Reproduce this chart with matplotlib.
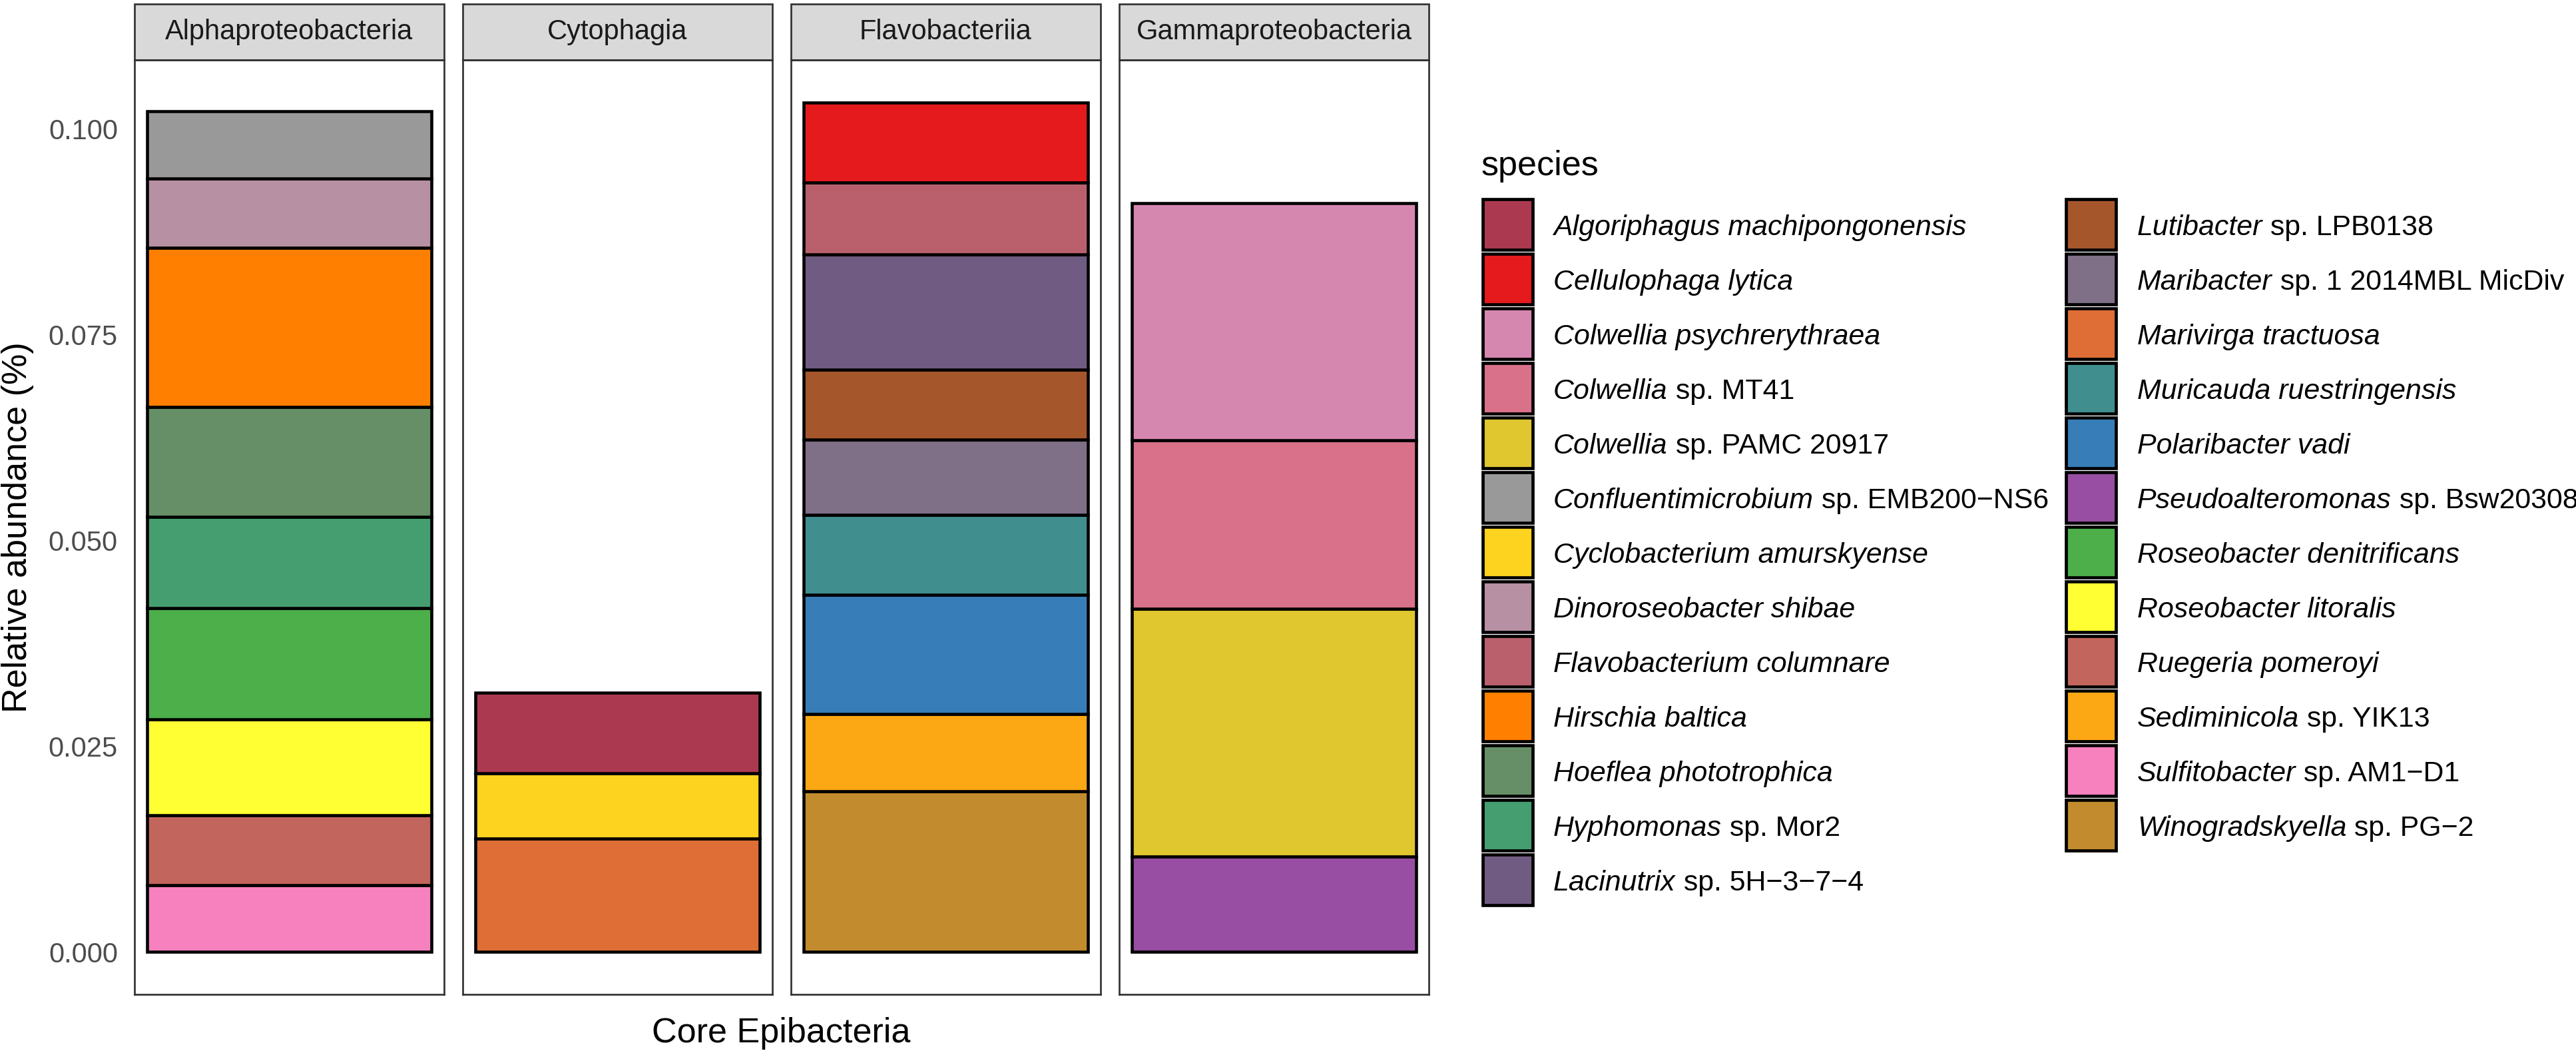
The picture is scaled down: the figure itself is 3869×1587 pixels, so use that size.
import matplotlib
matplotlib.use("Agg")
import matplotlib.pyplot as plt
from matplotlib.patches import Rectangle

plt.rcParams['font.family'] = ['Liberation Sans', 'DejaVu Sans']

species = [
    "Algoriphagus machipongonensis", "Cellulophaga lytica", "Colwellia psychrerythraea",
    "Colwellia sp. MT41", "Colwellia sp. PAMC 20917", "Confluentimicrobium sp. EMB200\u2212NS6",
    "Cyclobacterium amurskyense", "Dinoroseobacter shibae", "Flavobacterium columnare",
    "Hirschia baltica", "Hoeflea phototrophica", "Hyphomonas sp. Mor2",
    "Lacinutrix sp. 5H\u22123\u22127\u22124", "Lutibacter sp. LPB0138",
    "Maribacter sp. 1 2014MBL MicDiv", "Marivirga tractuosa", "Muricauda ruestringensis",
    "Polaribacter vadi", "Pseudoalteromonas sp. Bsw20308", "Roseobacter denitrificans",
    "Roseobacter litoralis", "Ruegeria pomeroyi", "Sediminicola sp. YIK13",
    "Sulfitobacter sp. AM1\u2212D1", "Winogradskyella sp. PG\u22122",
]
colors = [
    "#AB3A50", "#E41A1C", "#D687B0", "#D9718B", "#E0C62F", "#999999",
    "#FDD31F", "#B890A3", "#BA606D", "#FF7F00", "#668F67", "#459E6F",
    "#705C82", "#A6562B", "#7F6F87", "#DE6E36", "#418E8F", "#377EB8",
    "#984EA3", "#4DAF4A", "#FFFF33", "#C2655C", "#FCA714", "#F781BF", "#C28C2E",
]

classes = ["Alphaproteobacteria", "Cytophagia", "Flavobacteriia", "Gammaproteobacteria"]

# species per class, listed top to bottom of each stack
alpha_sp = ["Confluentimicrobium sp. EMB200\u2212NS6", "Dinoroseobacter shibae", "Hirschia baltica",
            "Hoeflea phototrophica", "Hyphomonas sp. Mor2", "Roseobacter denitrificans",
            "Roseobacter litoralis", "Ruegeria pomeroyi", "Sulfitobacter sp. AM1\u2212D1"]
alpha_val = [0.0082, 0.0084, 0.0194, 0.0133, 0.0111, 0.0135, 0.0117, 0.0085, 0.0081]

cyto_sp = ["Algoriphagus machipongonensis", "Cyclobacterium amurskyense", "Marivirga tractuosa"]
cyto_val = [0.0098, 0.0079, 0.0138]

flavo_sp = ["Cellulophaga lytica", "Flavobacterium columnare", "Lacinutrix sp. 5H\u22123\u22127\u22124",
            "Lutibacter sp. LPB0138", "Maribacter sp. 1 2014MBL MicDiv", "Muricauda ruestringensis",
            "Polaribacter vadi", "Sediminicola sp. YIK13", "Winogradskyella sp. PG\u22122"]
flavo_val = [0.0097, 0.0087, 0.0140, 0.0085, 0.0092, 0.0097, 0.0145, 0.0094, 0.0195]

gamma_sp = ["Colwellia psychrerythraea", "Colwellia sp. MT41", "Colwellia sp. PAMC 20917",
            "Pseudoalteromonas sp. Bsw20308"]
gamma_val = [0.0288, 0.0205, 0.0301, 0.0116]

panel_sp = [alpha_sp, cyto_sp, flavo_sp, gamma_sp]
panel_val = [alpha_val, cyto_val, flavo_val, gamma_val]

yticks = [0.0, 0.025, 0.05, 0.075, 0.1]
ytick_labels = ["0.000", "0.025", "0.050", "0.075", "0.100"]

color_of = dict(zip(species, colors))

W, H = 3869, 1587
fig = plt.figure(figsize=(W / 300, H / 300), dpi=300)

left0, pw, gap = 202, 465, 28
top, bottom = 90, 1493
strip_h = 84
edge = "#333333"

for i, cls in enumerate(classes):
    x0 = left0 + i * (pw + gap)
    ax = fig.add_axes([x0 / W, 1 - bottom / H, pw / W, (bottom - top) / H])
    sp = panel_sp[i][::-1]
    vals = panel_val[i][::-1]
    base = 0.0
    for s, v in zip(sp, vals):
        ax.bar(1, v, bottom=base, width=0.9, color=color_of[s], edgecolor="black", linewidth=1.1)
        base += v
    ax.set_xlim(0.509, 1.491)
    ax.set_ylim(-0.00516, 0.1084)
    ax.set_xticks([])
    ax.set_yticks(yticks)
    if i == 0:
        ax.set_yticklabels(ytick_labels, fontsize=10, color="#4d4d4d")
    else:
        ax.set_yticklabels([])
    ax.tick_params(axis="y", length=0, pad=6)
    for sp_ in ax.spines.values():
        sp_.set_color(edge)
        sp_.set_linewidth(0.65)
    sh = strip_h / (bottom - top)
    ax.add_patch(Rectangle((0, 1), 1, sh, transform=ax.transAxes, facecolor="#d9d9d9",
                           edgecolor=edge, linewidth=0.65, clip_on=False))
    ax.text(0.5, 1 + sh / 2, cls, transform=ax.transAxes, ha="center", va="center",
            fontsize=10, color="#1a1a1a")

fig.text(27 / W, 1 - 792 / H, "Relative abundance (%)", rotation=90, ha="center", va="center",
         fontsize=12.5)
fig.text(1173 / W, 1 - 1551 / H, "Core Epibacteria", ha="center", va="center", fontsize=12.5)

# legend drawn in pixel space
lax = fig.add_axes([0, 0, 1, 1])
lax.set_xlim(0, W)
lax.set_ylim(H, 0)
lax.axis("off")
renderer = fig.canvas.get_renderer()

lax.text(2225, 263, "species", fontsize=12.5, va="baseline", ha="left")
key_x = [2225, 3101]
text_x = [2333, 3210]
row_h, key_top = 82, 297
nrow = 13
for k, (s, c) in enumerate(zip(species, colors)):
    col, row = divmod(k, nrow)
    ky = key_top + row * row_h
    lax.add_patch(Rectangle((key_x[col] + 2.4, ky + 2.4), 75, 76, facecolor=c,
                            edgecolor="black", linewidth=1.13))
    if " sp. " in s:
        genus, rest = s.split(" sp. ")
        rest = " sp. " + rest
    else:
        genus, rest = s, ""
    t = lax.text(text_x[col], ky + 56, genus, fontsize=10.3, style="italic",
                 va="baseline", ha="left")
    if rest:
        w = t.get_window_extent(renderer).width
        lax.text(text_x[col] + w, ky + 56, rest, fontsize=10.3, va="baseline", ha="left")

fig.savefig("out.png", dpi=300)
